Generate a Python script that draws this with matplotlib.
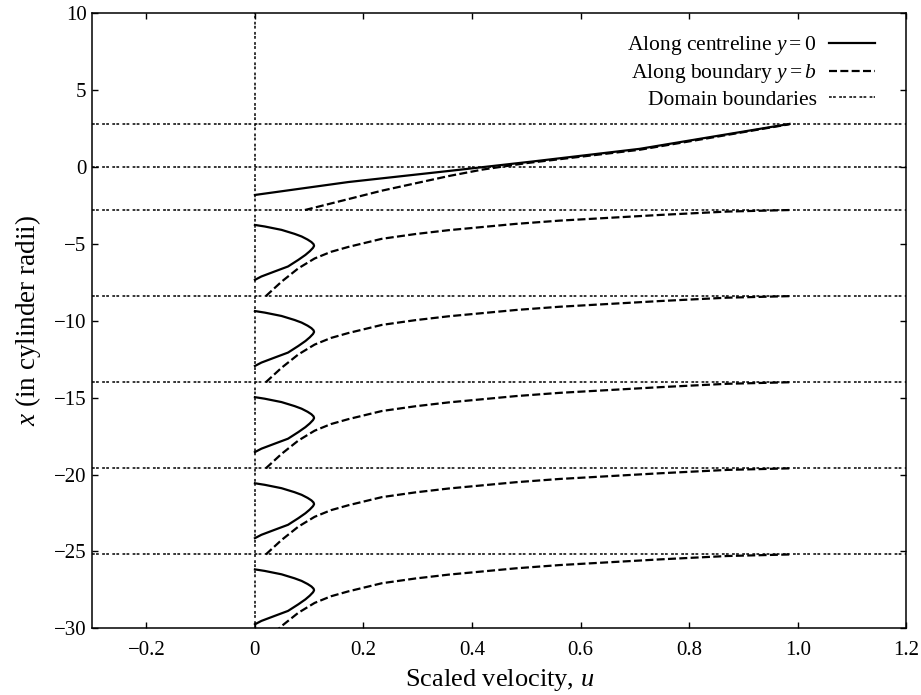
import matplotlib
matplotlib.use("Agg")
import matplotlib.pyplot as plt
import numpy as np

plt.rcParams['font.family'] = ['Liberation Serif', 'DejaVu Serif']
plt.rcParams['mathtext.fontset'] = 'custom'
plt.rcParams['mathtext.rm'] = 'Liberation Serif'
plt.rcParams['mathtext.it'] = 'Liberation Serif:italic'

# domain boundaries (horizontal) in cylinder radii
domain_x = [2.8, 0.0, -2.8, -8.4, -14.0, -19.6, -25.2]
# top of each repeating cell (the solid loop + dashed curve below it)
cell_tops = [-2.8, -8.4, -14.0, -19.6, -25.2]

# centreline profile within a cell, x relative to cell top
loop_u = [0.0, 0.018, 0.049, 0.073, 0.086, 0.097, 0.104, 0.108, 0.109,
          0.107, 0.101, 0.093, 0.080, 0.061, 0.036, 0.012, 0.0]
loop_x = [-0.97, -1.07, -1.29, -1.55, -1.72, -1.92, -2.08, -2.22, -2.33,
          -2.46, -2.68, -2.92, -3.24, -3.67, -4.00, -4.32, -4.54]

# boundary profile within a cell, x relative to cell top
bnd_u = [0.020, 0.049, 0.080, 0.110, 0.140, 0.172, 0.234, 0.296, 0.357,
         0.481, 0.561, 0.746, 0.870, 0.985]
bnd_x = [-5.60, -4.66, -3.79, -3.15, -2.72, -2.40, -1.87, -1.56, -1.31,
         -0.90, -0.69, -0.32, -0.10, 0.0]

# upstream part (above x = -2.8)
top_c_u = [0.0, 0.172, 0.357, 0.51, 0.709, 0.833, 0.985]
top_c_x = [-1.82, -0.98, -0.26, 0.35, 1.18, 1.91, 2.8]
top_b_u = [0.092, 0.234, 0.357, 0.419, 0.5, 0.709, 0.833, 0.985]
top_b_x = [-2.80, -1.54, -0.59, -0.17, 0.25, 1.12, 1.86, 2.78]

fig = plt.figure(figsize=(9.21, 6.95), dpi=100)
ax = fig.add_axes([0.1, 0.096, 0.884, 0.885])

solid_kw = dict(color='black', lw=1.6, ls='-')
dash_kw = dict(color='black', lw=1.6, dashes=(3.6, 1.5))
dot_kw = dict(color='black', lw=1.1, dashes=(1.8, 0.85, 1.8, 2.2))

l1, = ax.plot(top_c_u, top_c_x, **solid_kw)
l2, = ax.plot(top_b_u, top_b_x, **dash_kw)
for c in cell_tops:
    ax.plot(loop_u, np.array(loop_x) + c, **solid_kw)
    ax.plot(bnd_u, np.array(bnd_x) + c, **dash_kw)

for d in domain_x:
    l3 = ax.axhline(d, **dot_kw)
ax.axvline(0.0, **dot_kw)

ax.set_xlim(-0.3, 1.2)
ax.set_ylim(-30, 10)
ax.set_xticks([-0.2, 0, 0.2, 0.4, 0.6, 0.8, 1.0, 1.2])
ax.set_xticklabels(['\u22120.2', '0', '0.2', '0.4', '0.6', '0.8', '1.0', '1.2'])
ax.set_yticks(np.arange(-30, 11, 5))
ax.tick_params(direction='in', top=True, right=True, length=4, width=1,
               labelsize=15)
ax.tick_params(axis='x', pad=9)
ax.tick_params(axis='y', pad=4)
for s in ax.spines.values():
    s.set_linewidth(1.1)

ax.set_xlabel('Scaled velocity, $u$', fontsize=19, labelpad=5)
ax.set_ylabel('$x$ (in cylinder radii)', fontsize=19.5, labelpad=8)

ax.legend([l1, l2, l3],
          ['Along centreline $y = 0$', 'Along boundary $y = b$',
           'Domain boundaries'],
          loc='upper right', frameon=False, markerfirst=False,
          fontsize=15.5, handlelength=2.1, handletextpad=0.6,
          labelspacing=0.22, bbox_to_anchor=(0.985, 0.997))

fig.savefig('out.png', dpi=100)
